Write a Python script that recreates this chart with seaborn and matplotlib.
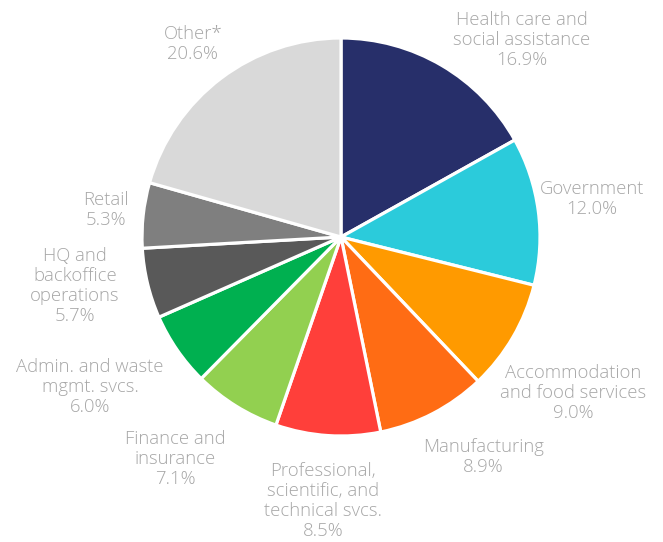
import matplotlib
matplotlib.use("Agg")
import matplotlib.pyplot as plt
import seaborn as sns

sectors = ["Health care and\nsocial assistance", "Government",
           "Accommodation\nand food services", "Manufacturing",
           "Professional,\nscientific, and\ntechnical svcs.",
           "Finance and\ninsurance", "Admin. and waste\nmgmt. svcs.",
           "HQ and\nbackoffice\noperations", "Retail", "Other*"]
shares = [16.9, 12.0, 9.0, 8.9, 8.5, 7.1, 6.0, 5.7, 5.3, 20.6]
colors = ["#272F6A", "#2BCBDB", "#FF9A00", "#FF6C14", "#FF3F3A",
          "#92D050", "#00B050", "#595959", "#7F7F7F", "#D9D9D9"]

# label centres (data units, pie radius = 1)
label_xy = [(0.91, 0.99), (1.261, 0.191), (1.166, -0.784), (0.714, -1.106),
            (-0.09, -1.327), (-0.834, -1.116), (-1.261, -0.754),
            (-1.337, -0.246), (-1.181, 0.136), (-0.744, 0.97)]

sns.set_theme(style="white")
plt.rcParams["font.family"] = ["Open Sans", "DejaVu Sans"]

fig = plt.figure(figsize=(6.63, 5.42), dpi=100)
ax = fig.add_axes([0, 0, 1, 1])

pal = sns.color_palette(colors)
ax.pie(shares, colors=pal, startangle=90, counterclock=False, radius=1,
       wedgeprops=dict(edgecolor="white", linewidth=2.3))

for name, val, (x, y) in zip(sectors, shares, label_xy):
    ax.text(x, y, f"{name}\n{val:.1f}%", ha="center", va="center",
            fontsize=13.3, color="#A6A6A6", fontweight="light",
            linespacing=1.15)

r = 199.0
ax.set_xlim(-341 / r, (663 - 341) / r)
ax.set_ylim(-(542 - 237) / r, 237 / r)
ax.set_aspect("auto")
ax.axis("off")

fig.savefig("out.png", dpi=100, facecolor="white")
